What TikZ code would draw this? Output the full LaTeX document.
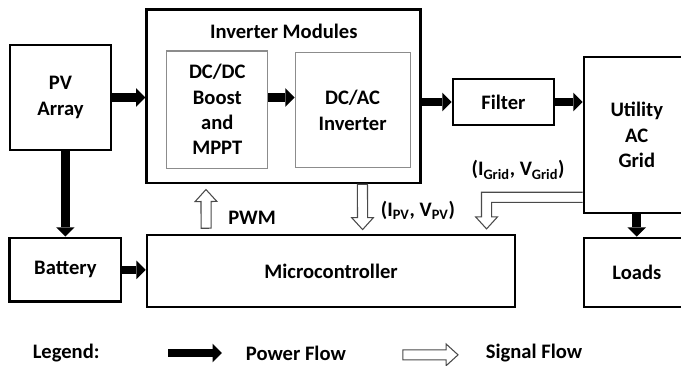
\documentclass[tikz,border=0pt]{standalone}
\usepackage{fontspec}
\setmainfont{Carlito}
\usetikzlibrary{arrows.meta, positioning, calc}
\definecolor{BoxGray}{HTML}{8C8C8C}
\definecolor{SigGray}{HTML}{4A4A4A}
\tikzset{
  block/.style={draw=black, line width=2pt, fill=white, align=center, inner sep=3pt, font=\fontsize{15.5}{19}\selectfont\bfseries},
  subblock/.style={draw=BoxGray, line width=0.8pt, fill=white, align=center, inner sep=3pt, font=\fontsize{15.5}{19}\selectfont\bfseries},
  tag/.style={inner sep=1pt, font=\fontsize{15.5}{19}\selectfont\bfseries},
  power/.style={-{Triangle[length=7pt, width=14pt, line width=0pt]}, line width=6.5pt, draw=black},
  hollow/.style={draw=SigGray, line width=0.8pt, fill=white, line join=miter},
  signal/.style={hollow, to path={
    ($(\tikztostart)!3.8pt!90:(\tikztotarget)$)
    -- ($(\tikztotarget)!9pt!(\tikztostart)!3.8pt!90:(\tikztotarget)$)
    -- ($(\tikztotarget)!9pt!(\tikztostart)!8.2pt!90:(\tikztotarget)$)
    -- (\tikztotarget)
    -- ($(\tikztotarget)!9pt!(\tikztostart)!8.2pt!-90:(\tikztotarget)$)
    -- ($(\tikztotarget)!9pt!(\tikztostart)!3.8pt!-90:(\tikztotarget)$)
    -- ($(\tikztostart)!3.8pt!-90:(\tikztotarget)$) -- cycle}}
}
\begin{document}
\begin{tikzpicture}
\useasboundingbox (0,0) rectangle (18.02,-9.68);
\node[block, minimum width=2.67cm, minimum height=2.78cm] (pv) at (1.60,-2.58) {PV\\Array};
\node[block, minimum width=7.25cm, minimum height=4.58cm] (inv) at (7.51,-2.55) {};
\node[tag] (invtitle) at ([yshift=-0.61cm]inv.north) {Inverter Modules};
\node[subblock, minimum width=2.67cm, minimum height=3.10cm] (dcdc) at (5.75,-2.90) {DC/DC\\Boost\\and\\MPPT};
\node[subblock, minimum width=3.04cm, minimum height=3.04cm] (dcac) at (9.33,-2.92) {DC/AC\\Inverter};
\node[block, minimum width=2.67cm, minimum height=1.22cm] (filter) at (13.32,-2.70) {Filter};
\node[block, minimum width=2.80cm, minimum height=4.13cm] (grid) at (16.85,-3.57) {Utility\\AC\\Grid};
\node[block, minimum width=2.80cm, minimum height=1.83cm] (loads) at (16.85,-7.21) {Loads};
\node[block, minimum width=9.74cm, minimum height=1.91cm] (micro) at (8.76,-7.17) {Microcontroller};
\node[block, minimum width=2.94cm, minimum height=1.69cm] (battery) at (1.73,-7.14) {Battery};
% power flow
\draw[power] (pv) -- (inv.west |- pv);
\draw[power] (dcdc.east |- pv) -- (dcac.west |- pv);
\draw[power] (inv.east |- filter) -- (filter);
\draw[power] (filter) -- (grid.west |- filter);
\draw[power] (battery.north |- pv.south) -- (battery.north);
\draw[power] (battery) -- (micro.west |- battery);
\draw[power] (grid.south -| loads.north) -- (loads.north);
% signal flow
\draw[signal] ([xshift=1.60cm, yshift=4pt]micro.north west) to ([xshift=1.60cm, yshift=-4pt]inv.south west);
\draw[signal] ([xshift=5.74cm]inv.south west) to ([xshift=5.74cm, yshift=3pt]micro.north west);
\draw[hollow] let \p1=([yshift=-1.65cm]grid.west), \p2=([xshift=9.02cm, yshift=3.5pt]micro.north west) in
  (\x1,\y1+3.8pt) -- (\x2-3.8pt,\y1+3.8pt) -- (\x2-3.8pt,\y2+9pt) -- (\x2-8.2pt,\y2+9pt) -- (\x2,\y2)
  -- (\x2+8.2pt,\y2+9pt) -- (\x2+3.8pt,\y2+9pt) -- (\x2+3.8pt,\y1-3.8pt) -- (\x1,\y1-3.8pt);
\node[tag] (pwm) at (6.67,-5.77) {PWM};
\node[tag] (ipv) at (11.06,-5.58) {(I\textsubscript{PV}, V\textsubscript{PV})};
\node[tag] (igrid) at (13.71,-4.50) {(I\textsubscript{Grid}, V\textsubscript{Grid})};
% legend
\node[tag] (legend) at (1.75,-9.34) {Legend:};
\node[tag] (pflow) at (7.83,-9.34) {Power Flow};
\node[tag] (sflow) at (14.13,-9.34) {Signal Flow};
\coordinate (p1) at (4.45,-9.34);
\coordinate (p2) at (5.87,-9.34);
\coordinate (s1) at (10.66,-9.39);
\coordinate (s2) at (12.12,-9.39);
\draw[power] (p1) -- (p2);
\draw[signal] (s1) to (s2);
\end{tikzpicture}
\end{document}
